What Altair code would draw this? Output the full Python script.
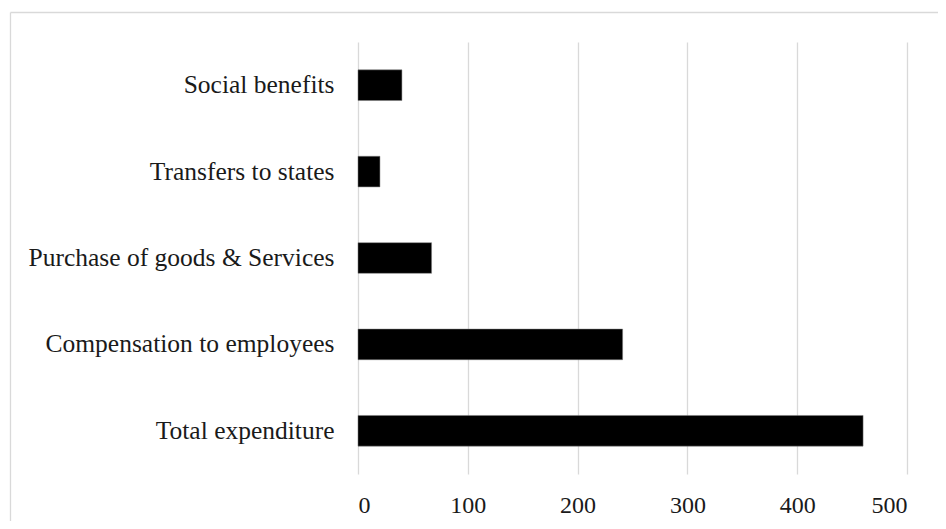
import altair as alt
import pandas as pd

categories = ["Social benefits", "Transfers to states", "Purchase of goods & Services",
              "Compensation to employees", "Total expenditure"]
values = [40, 20, 67, 241, 460]
x_ticks = [0, 100, 200, 300, 400, 500]

df = pd.DataFrame({"category": categories, "value": values})

FONT = "Liberation Serif"

bars = alt.Chart(df).mark_bar(color="#000000", stroke="#7f7f7f", strokeWidth=0.5).encode(
    x=alt.X("value:Q",
            scale=alt.Scale(domain=[0, 500], nice=False),
            axis=alt.Axis(values=x_ticks, title=None, domain=False, ticks=False,
                          labelPadding=19, labelFontSize=24, labelFont=FONT,
                          labelColor="#1a1a1a", grid=True, gridColor="#d9d9d9",
                          gridWidth=1.3)),
    y=alt.Y("category:N", sort=categories,
            scale=alt.Scale(paddingInner=0.645, paddingOuter=0.3225),
            axis=alt.Axis(title=None, domain=False, ticks=False, labelPadding=24,
                          labelFontSize=25.5, labelFont=FONT, labelColor="#1a1a1a",
                          labelLimit=400)),
)

one = pd.DataFrame({"a": [0]})
left_border = alt.Chart(one).mark_rule(color="#d9d9d9", strokeWidth=1.3).encode(
    x=alt.value(-347.5), y=alt.value(-29.5), y2=alt.value(500))
top_border = alt.Chart(one).mark_rule(color="#d9d9d9", strokeWidth=1.3).encode(
    x=alt.value(-347.5), x2=alt.value(600), y=alt.value(-29.5))

chart = alt.layer(bars, left_border, top_border).properties(
    width=549, height=432,
    autosize=alt.AutoSizeParams(type="none"),
    padding={"left": 350, "top": 34, "right": 31, "bottom": 47},
).configure_view(stroke=None)

chart.save("out.html", embed_options={"renderer": "svg", "actions": False})
